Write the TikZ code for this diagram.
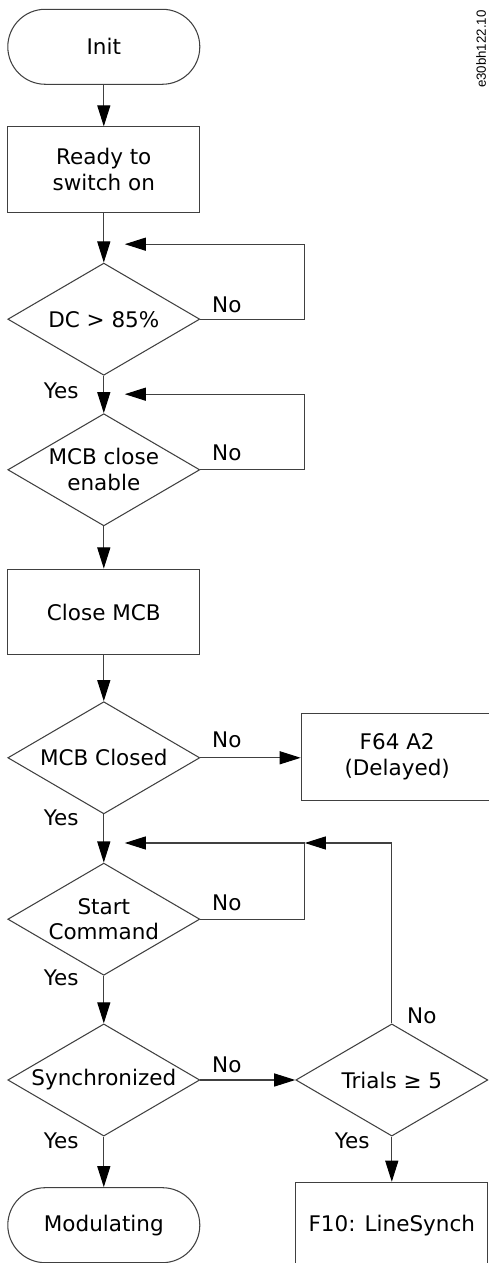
\documentclass[tikz,border=0pt]{standalone}
\usepackage{fontspec}
\setmainfont{DejaVu Sans}
\newfontfamily\tagfont{Liberation Sans}
\usepackage{tikz}
\usetikzlibrary{arrows.meta,positioning,shapes.geometric,calc}
\definecolor{flline}{RGB}{64,64,64}
\tikzset{
  fltext/.style={font=\fontsize{10.2}{12.3}\selectfont, align=center},
  termbox/.style={fltext, draw=flline, line width=0.5pt, rounded corners=0.625cm, minimum width=3.2cm, minimum height=1.25cm},
  stepbox/.style={fltext, draw=flline, line width=0.5pt, minimum width=3.2cm, minimum height=1.43cm},
  decbox/.style={fltext, draw=flline, line width=0.5pt, diamond, aspect=1.7, inner sep=0pt, minimum width=3.2cm, minimum height=1.87cm},
  lbl/.style={font=\fontsize{10.2}{12.3}\selectfont, inner sep=0pt},
  arr/.style={draw=flline, line width=0.5pt, -{Triangle[length=10pt,width=6.2pt,black]}}
}

\begin{document}
\begin{tikzpicture}
  \clip (0,0) rectangle (8.15,21.05);
  % Main column
  \node[termbox] (init) at (1.73,20.27) {Init};
  \node[stepbox] (ready) at (1.73,18.22) {Ready to\\switch on};
  \node[decbox] (dc) at (1.73,15.73) {DC > 85\%};
  \node[decbox] (mcben) at (1.73,13.22) {MCB close\\enable};
  \node[stepbox] (closemcb) at (1.73,10.85) {Close MCB};
  \node[decbox] (mcbclosed) at (1.73,8.42) {MCB Closed};
  \node[decbox] (start) at (1.73,5.73) {Start\\Command};
  \node[decbox] (sync) at (1.73,3.05) {Synchronized};
  \node[termbox] (modul) at (1.73,0.63) {Modulating};
  % Right column
  \node[stepbox, minimum height=1.45cm] (f64) at (6.62,8.43) {F64 A2\\(Delayed)};
  \node[decbox] (trials) at (6.53,3.05) {Trials ≥ 5};
  \node[stepbox] (f10) at (6.53,0.63) {F10: LineSynch};
  % Loop points
  \coordinate (dcloop) at (5.08,16.98);
  \coordinate (dctip) at (2.08,16.98);
  \coordinate (enloop) at (5.08,14.48);
  \coordinate (entip) at (2.08,14.48);
  \coordinate (stloop) at (5.08,7.0);
  \coordinate (sttip) at (2.08,7.0);
  % Connectors
  \draw[arr] (init) -- (ready);
  \draw[arr] (ready) -- (dc);
  \draw[arr] (dc) -- (mcben);
  \draw[arr] (mcben) -- (closemcb);
  \draw[arr] (closemcb) -- (mcbclosed);
  \draw[arr] (mcbclosed) -- (start);
  \draw[arr] (start) -- (sync);
  \draw[arr] (sync) -- (modul);
  \draw[arr] (mcbclosed.east) -- (mcbclosed.east -| f64.west);
  \draw[arr] (sync) -- (trials);
  \draw[arr] (trials) -- (f10);
  \draw[arr] (dc.east) -| (dcloop) -- (dctip);
  \draw[arr] (mcben.east) -| (enloop) -- (entip);
  \draw[arr] (start.east) -| (stloop) -- (sttip);
  \draw[arr] (trials.north) |- (stloop);
  % Labels
  \node[lbl] (dcno) at (3.78,15.97) {No};
  \node[lbl] (dcyes) at (1.02,14.53) {Yes};
  \node[lbl] (enno) at (3.78,13.5) {No};
  \node[lbl] (mcno) at (3.78,8.72) {No};
  \node[lbl] (mcyes) at (1.02,7.42) {Yes};
  \node[lbl] (stno) at (3.78,6.0) {No};
  \node[lbl] (styes) at (1.02,4.75) {Yes};
  \node[lbl] (syno) at (3.78,3.3) {No};
  \node[lbl] (syyes) at (1.02,2.03) {Yes};
  \node[lbl] (trno) at (7.03,4.12) {No};
  \node[lbl] (tryes) at (5.87,2.03) {Yes};
  \node[rotate=90, font=\tagfont\fontsize{6.3}{7}\selectfont, inner sep=0pt] (tag) at (8.02,20.23) {e30bh122.10};
\end{tikzpicture}
\end{document}
